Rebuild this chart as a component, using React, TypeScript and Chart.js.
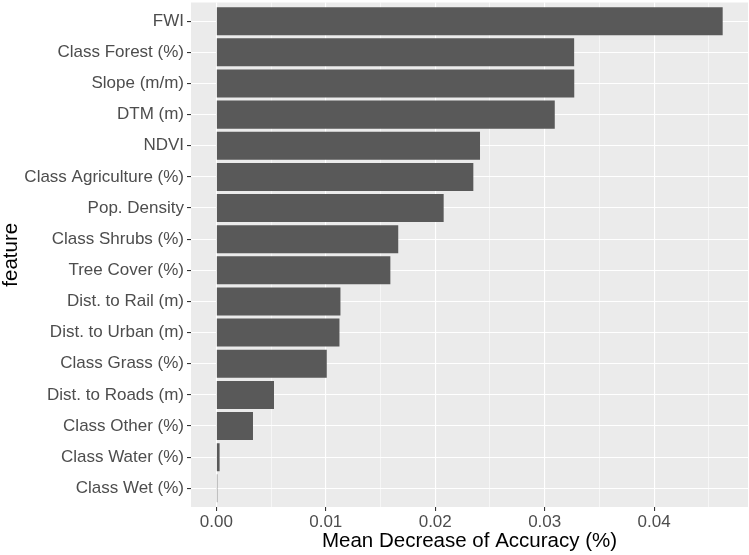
import React, { useEffect, useRef } from "react";
import { Chart, registerables } from "chart.js";

Chart.register(...registerables);

const features: string[] = [
  "FWI",
  "Class Forest (%)",
  "Slope (m/m)",
  "DTM (m)",
  "NDVI",
  "Class Agriculture (%)",
  "Pop. Density",
  "Class Shrubs (%)",
  "Tree Cover (%)",
  "Dist. to Rail (m)",
  "Dist. to Urban (m)",
  "Class Grass (%)",
  "Dist. to Roads (m)",
  "Class Other (%)",
  "Class Water (%)",
  "Class Wet (%)",
];

const importance: number[] = [
  0.04626, 0.03269, 0.03270, 0.03092, 0.02409, 0.02348, 0.02077, 0.01662,
  0.01590, 0.01134, 0.01125, 0.01009, 0.00527, 0.00335, 0.0003, 0.00009,
];

const xTicks: number[] = [0, 0.005, 0.01, 0.015, 0.02, 0.025, 0.03, 0.035, 0.04, 0.045];
const xMajorLabels: string[] = ["0.00", "0.01", "0.02", "0.03", "0.04"];

const PANEL = "#EBEBEB";
const BAR = "#595959";
const FONT = "'Liberation Sans', Arial, sans-serif";

export default function App() {
  const ref = useRef<HTMLCanvasElement | null>(null);

  useEffect(() => {
    if (!ref.current) return;
    const maxV = Math.max(...importance);
    const xmin = -0.05 * maxV;
    const xmax = maxV * 1.05;

    const panelBg = {
      id: "panelBg",
      beforeDraw(chart: any) {
        const { ctx, chartArea } = chart;
        ctx.save();
        ctx.fillStyle = PANEL;
        ctx.fillRect(chartArea.left, chartArea.top, chartArea.right - chartArea.left, chartArea.bottom - chartArea.top);
        ctx.restore();
      },
    };

    const chart = new Chart(ref.current, {
      type: "bar",
      data: {
        datasets: [
          {
            data: importance.map((v, i) => ({ x: v, y: i })),
            backgroundColor: BAR,
            borderWidth: 0,
            barPercentage: 0.9,
            categoryPercentage: 1.0,
          },
        ],
      },
      plugins: [panelBg],
      options: {
        indexAxis: "y",
        responsive: false,
        animation: false,
        layout: { padding: { top: 2.5, right: 1, left: 0, bottom: 0 } },
        plugins: {
          legend: { display: false },
          tooltip: { enabled: false },
        },
        scales: {
          x: {
            type: "linear",
            min: xmin,
            max: xmax,
            offset: false,
            afterBuildTicks(scale: any) {
              scale.ticks = xTicks.map((v) => ({ value: v }));
            },
            afterFit(scale: any) {
              scale.height = 48;
              scale.paddingLeft = 0;
              scale.paddingRight = 0;
            },
            border: { display: false },
            grid: {
              offset: false,
              color: "#FFFFFF",
              lineWidth: (c: any) => (c.index % 2 === 0 ? 1.1 : 0.55),
              tickColor: (c: any) => (c.index % 2 === 0 ? "#333333" : "rgba(0,0,0,0)"),
              tickLength: 4,
              tickWidth: 1.1,
              drawTicks: true,
            },
            ticks: {
              autoSkip: false,
              maxRotation: 0,
              padding: 1,
              color: "#4D4D4D",
              font: { family: FONT, size: 17 },
              callback: (_v: any, i: number) => (i % 2 === 0 ? xMajorLabels[i / 2] : ""),
            },
            title: {
              display: true,
              text: "Mean Decrease of Accuracy (%)",
              color: "#000000",
              font: { family: FONT, size: 20.5 },
              padding: { top: 0, bottom: 1 },
            },
          },
          y: {
            type: "linear",
            min: -0.6,
            max: features.length - 1 + 0.6,
            reverse: true,
            offset: false,
            bounds: "data",
            afterBuildTicks(scale: any) {
              scale.ticks = features.map((_f, i) => ({ value: i }));
            },
            afterFit(scale: any) {
              scale.width = 191;
              scale.paddingTop = 0;
              scale.paddingBottom = 0;
            },
            border: { display: false },
            grid: {
              offset: false,
              color: "#FFFFFF",
              lineWidth: 1.1,
              tickColor: "#333333",
              tickLength: 4,
              tickWidth: 1.1,
              drawTicks: true,
            },
            ticks: {
              autoSkip: false,
              padding: 3,
              color: "#4D4D4D",
              font: { family: FONT, size: 17 },
              callback: (v: any) => features[Math.round(Number(v))] ?? "",
            },
            title: {
              display: true,
              text: "feature",
              color: "#000000",
              font: { family: FONT, size: 20.5, lineHeight: 1.1 },
              padding: { top: 0, bottom: 0 },
            },
          },
        },
      },
    } as any);

    return () => chart.destroy();
  }, []);

  return (
    <div style={{ position: "absolute", left: 0, top: 0, width: 749, height: 555, background: "#FFFFFF" }}>
      <canvas ref={ref} width={749} height={555} style={{ display: "block" }} />
    </div>
  );
}
